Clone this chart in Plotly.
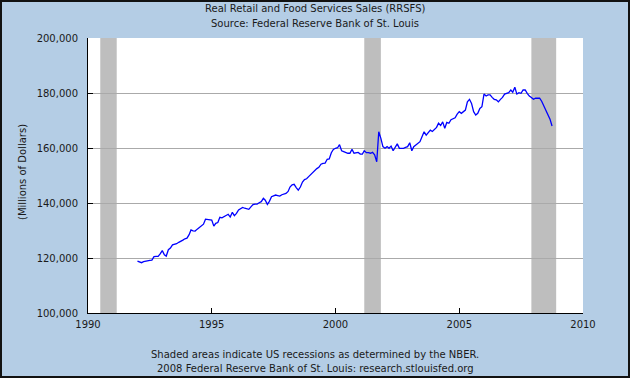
import pandas as pd
import plotly.graph_objects as go

# Monthly values, thousands of millions of dollars, Jan 1992 .. Oct 2008
v1992 = [118.9, 118.7, 118.3, 118.7, 118.9, 118.9, 119.1, 119.2, 120.5, 120.6, 120.6, 121.5]
v1993 = [122.7, 121.2, 120.7, 123.0, 123.6, 124.8, 125.0, 125.2, 125.7, 126.0, 126.5, 127.0]
v1994 = [127.2, 128.5, 130.2, 129.9, 129.8, 130.5, 131.0, 131.5, 132.3, 134.1, 134.0, 133.9]
v1995 = [133.8, 131.6, 132.6, 132.9, 134.8, 134.6, 135.0, 135.3, 135.9, 134.9, 136.6, 135.4]
v1996 = [136.2, 137.5, 137.8, 138.4, 138.1, 137.9, 137.7, 138.6, 139.4, 139.6, 139.6, 140.1]
v1997 = [140.5, 141.7, 141.0, 139.5, 140.6, 142.3, 142.6, 142.9, 142.7, 142.5, 143.0, 143.2]
v1998 = [143.5, 144.2, 145.8, 146.6, 146.8, 145.6, 144.7, 145.8, 147.6, 148.5, 148.8, 149.6]
v1999 = [150.4, 151.0, 152.0, 152.5, 153.0, 154.1, 154.4, 154.5, 155.9, 156.0, 158.3, 159.5]
v2000 = [159.9, 160.1, 161.2, 159.0, 158.7, 158.3, 158.1, 158.1, 159.5, 158.1, 158.2, 158.4]
v2001 = [157.8, 157.8, 159.0, 158.3, 158.3, 158.1, 158.4, 157.5, 155.0, 165.9, 163.5, 160.5]
v2002 = [159.9, 160.5, 159.9, 160.7, 159.0, 160.5, 161.5, 159.9, 159.9, 159.9, 160.2, 160.5]
v2003 = [161.9, 159.0, 160.5, 161.1, 161.5, 162.3, 164.1, 165.9, 164.7, 165.5, 166.5, 166.0]
v2004 = [166.8, 167.5, 169.0, 168.2, 169.5, 167.2, 169.3, 169.0, 170.3, 170.6, 171.0, 172.3]
v2005 = [173.2, 172.6, 173.2, 173.8, 176.8, 177.7, 176.2, 173.2, 172.0, 172.6, 174.4, 175.0]
v2006 = [179.6, 178.9, 179.3, 179.3, 178.4, 177.7, 177.5, 176.8, 177.7, 178.4, 179.6, 179.9]
v2007 = [180.1, 181.1, 180.3, 182.1, 179.6, 180.1, 179.9, 181.1, 181.1, 179.9, 178.9, 178.4]
v2008 = [177.7, 178.1, 178.1, 178.1, 177.0, 175.5, 173.5, 172.3, 170.5, 168.0]

values_k = (v1992 + v1993 + v1994 + v1995 + v1996 + v1997 + v1998 + v1999 + v2000
            + v2001 + v2002 + v2003 + v2004 + v2005 + v2006 + v2007 + v2008)
values = [v * 1000 for v in values_k]
dates = pd.date_range("1992-01-01", periods=len(values), freq="MS")

recession_starts = ["1990-07-01", "2001-03-01", "2007-12-01"]
recession_ends = ["1991-03-01", "2001-11-01", "2008-12-01"]

x_tick_years = [1990, 1995, 2000, 2005, 2010]
y_tick_vals = [100000, 120000, 140000, 160000, 180000, 200000]
y_tick_text = ["100,000", "120,000", "140,000", "160,000", "180,000", "200,000"]

title_line1 = "Real Retail and Food Services Sales (RRSFS)"
title_line2 = "Source: Federal Reserve Bank of St. Louis"
footer_line1 = "Shaded areas indicate US recessions as determined by the NBER."
footer_line2 = "2008 Federal Reserve Bank of St. Louis: research.stlouisfed.org"
y_title = "(Millions of Dollars)"

W, H = 630, 378
L, R, T, B = 88, 583, 38, 313
PW, PH = R - L, B - T


def px(p):
    return (p - L) / PW


def py(p):
    return (B - p) / PH


FONT = "DejaVu Sans"
TXT = "#1a1a1a"
BG = "#B4CDE5"

fig = go.Figure()
fig.add_trace(go.Scatter(x=dates, y=values, mode="lines",
                         line=dict(color="#0000FF", width=1.3), showlegend=False,
                         hoverinfo="skip"))

shapes = []
for s, e in zip(recession_starts, recession_ends):
    shapes.append(dict(type="rect", xref="x", yref="paper", x0=s, x1=e, y0=0, y1=1,
                       fillcolor="#BEBEBE", line=dict(width=0), layer="between"))
# outer border
shapes.append(dict(type="rect", xref="paper", yref="paper",
                   x0=px(1), x1=px(W - 1), y0=py(H - 1), y1=py(1),
                   line=dict(color="#111111", width=2), fillcolor="rgba(0,0,0,0)",
                   layer="above"))

annotations = [
    dict(text=title_line1, x=px(315), y=py(9)),
    dict(text=title_line2, x=px(315), y=py(23)),
    dict(text=footer_line1, x=px(315), y=py(354)),
    dict(text=footer_line2, x=px(315), y=py(368)),
    dict(text=y_title, x=px(22), y=py(172), textangle=-90),
]
for a in annotations:
    a.update(xref="paper", yref="paper", showarrow=False, xanchor="center",
             yanchor="middle", font=dict(family=FONT, size=10, color=TXT))

fig.update_layout(
    width=W, height=H,
    margin=dict(l=L, r=W - R, t=T, b=H - B, pad=0),
    paper_bgcolor=BG, plot_bgcolor="#FFFFFF",
    font=dict(family=FONT, size=10, color=TXT),
    shapes=shapes, annotations=annotations,
    hovermode=False,
    xaxis=dict(
        type="date",
        range=["1990-01-01", "2010-01-01"],
        tickvals=[f"{y}-01-01" for y in x_tick_years],
        ticktext=[str(y) for y in x_tick_years],
        showgrid=False, zeroline=False,
        showline=True, linecolor="#000000", linewidth=1,
        ticks="inside", ticklen=5, tickcolor="#000000",
        ticklabelstandoff=2,
        tickfont=dict(family=FONT, size=10, color=TXT),
    ),
    yaxis=dict(
        range=[100000, 200000],
        tickvals=y_tick_vals, ticktext=y_tick_text,
        showgrid=True, gridcolor="#AAAAAA", gridwidth=1,
        zeroline=False,
        showline=True, linecolor="#000000", linewidth=1,
        ticks="inside", ticklen=5, tickcolor="#000000",
        ticklabelstandoff=7,
        tickfont=dict(family=FONT, size=10, color=TXT),
    ),
)

fig.write_html(
    "out.html",
    config={"displayModeBar": False, "staticPlot": True},
    post_script="document.body.style.margin='0';document.body.style.overflow='hidden';",
)
